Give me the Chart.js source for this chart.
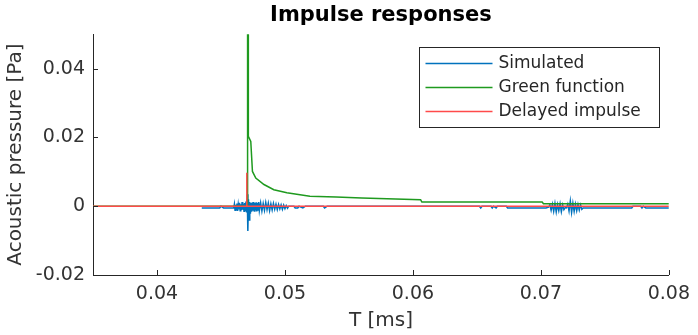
<!DOCTYPE html>
<html>
<head>
<meta charset="utf-8">
<script src="https://cdn.jsdelivr.net/npm/chart.js@4/dist/chart.umd.min.js"></script>
<style>
  html, body { margin: 0; padding: 0; background: #fff; }
  #wrap { width: 698px; height: 335px; }
</style>
</head>
<body>
<div id="wrap"><canvas id="impulseChart" width="698" height="335"></canvas></div>
<script>
// Tick values for both axes
const xTickValues = [0.04, 0.05, 0.06, 0.07, 0.08];
const yTickValues = [-0.02, 0, 0.02, 0.04];

// Simulated response
const simT = [
    0.0435, 0.0449, 0.0450, 0.0452, 0.0460,
    0.04605, 0.0461, 0.04615, 0.0462, 0.04625, 0.0463, 0.04635, 0.0464, 0.04645, 0.0465,
    0.04655, 0.0466, 0.04665, 0.0467, 0.04675, 0.0468, 0.04685, 0.0469, 0.04695, 0.0470,
    0.04705, 0.0471, 0.04715, 0.0472, 0.04725, 0.0473, 0.04735, 0.0474, 0.04745, 0.0475,
    0.04755, 0.0476, 0.04765, 0.0477, 0.04775, 0.0478, 0.04785, 0.0479, 0.04795, 0.0480,
    0.0481, 0.0482, 0.0483, 0.0484, 0.0485, 0.0486, 0.0487, 0.0488, 0.0489, 0.0490,
    0.0491, 0.0492, 0.0493, 0.0494, 0.0495, 0.0496, 0.0497, 0.0498, 0.0499, 0.0500,
    0.0501, 0.0502, 0.0503, 0.0507, 0.0508, 0.0510, 0.0511, 0.0514, 0.0516, 0.0530,
    0.0531, 0.0533, 0.0652, 0.0653, 0.0654, 0.0661, 0.0662, 0.0663, 0.0665, 0.0666,
    0.0673, 0.0674, 0.0704, 0.0706, 0.0707, 0.0708, 0.0709, 0.0710, 0.0711, 0.0712,
    0.0713, 0.0714, 0.0715, 0.0716, 0.0717, 0.0718, 0.0719, 0.0720, 0.0721, 0.0722,
    0.0723, 0.0724, 0.0725, 0.0726, 0.0727, 0.0728, 0.0729, 0.0730, 0.0731, 0.0732,
    0.0733, 0.0771, 0.0772, 0.0778, 0.0779, 0.0780, 0.0782, 0.0800
];
const simP = [
    -0.0005, -0.0005, 0, -0.0005, -0.0005,
    0.0006, -0.0012, 0.0004, -0.0010, 0.0008, -0.0014, 0.0005, -0.0009, 0.0010, -0.0013,
    0.0006, -0.0011, 0.0012, -0.0010, 0.0007, -0.0015, 0.0009, -0.0012, 0.0014, -0.0018,
    0.0035, -0.0072, 0.0020, -0.0040, 0.0012, -0.0022, 0.0009, -0.0016, 0.0011, -0.0013,
    0.0012, -0.0014, 0.0010, -0.0012, 0.0011, -0.0015, 0.0009, -0.0011, 0.0012, -0.0013,
    0.0010, -0.0014, 0.0008, -0.0012, 0.0011, -0.0010, 0.0009, -0.0013, 0.0007, -0.0011,
    0.0008, -0.0009, 0.0006, -0.0010, 0.0005, -0.0008, 0.0004, -0.0009, 0.0003, -0.0007,
    0.0002, -0.0006, 0, 0, -0.0005, -0.0005, 0, -0.0005, 0, 0,
    -0.0005, 0, 0, -0.0005, 0, 0, -0.0005, 0, -0.0005, 0,
    0, -0.0005, -0.0005, -0.0003, 0.0004, -0.0012, 0.0006, -0.0015, 0.0008, -0.0017,
    0.0005, -0.0013, 0.0007, -0.0016, 0.0004, -0.0010, -0.0004, -0.0005, 0.0006, -0.0014,
    0.0015, -0.0018, 0.0009, -0.0015, 0.0006, -0.0013, 0.0005, -0.0011, 0.0004, -0.0009,
    -0.0005, -0.0005, 0, 0, -0.0005, 0, -0.0005, -0.0005
];

// Green function
const greenT = [
    0.0350, 0.04708, 0.04708, 0.04713, 0.04714, 0.04733, 0.04746, 0.04772, 0.04836, 0.04913,
    0.05015, 0.05195, 0.0540, 0.0560, 0.0606, 0.0607, 0.0701, 0.0702, 0.0800
];
const greenP = [
    0, 0, 0.0500, 0.0500, 0.0203, 0.0188, 0.0101, 0.0082, 0.0063, 0.0048,
    0.0039, 0.0029, 0.0027, 0.0024, 0.0019, 0.0012, 0.0012, 0.0007, 0.0007
];

// Delayed impulse
const delayT = [0.0350, 0.04702, 0.04702, 0.04702, 0.0800];
const delayP = [0, 0, 0.0097, 0, 0];

const axisColor = '#262626';
const fontFamily = "'DejaVu Sans', sans-serif";

function toPoints(ts, ps) {
    return ts.map((t, i) => ({ x: t, y: ps[i] }));
}

function fmt(v) {
    return String(Number(v.toFixed(4)));
}

// Inward tick marks, MATLAB style
const inwardTicks = {
    id: 'inwardTicks',
    afterDatasetsDraw(chart) {
        const { ctx, chartArea: a, scales } = chart;
        ctx.save();
        ctx.strokeStyle = axisColor;
        ctx.lineWidth = 1;
        ctx.beginPath();
        xTickValues.forEach(v => {
            const px = Math.round(scales.x.getPixelForValue(v)) + 0.5;
            ctx.moveTo(px, a.bottom);
            ctx.lineTo(px, a.bottom - 5);
        });
        yTickValues.forEach(v => {
            const py = Math.round(scales.y.getPixelForValue(v)) + 0.5;
            ctx.moveTo(a.left, py);
            ctx.lineTo(a.left + 5, py);
        });
        ctx.stroke();
        ctx.restore();
    }
};

// Boxed legend inside the axes, upper right
const boxLegend = {
    id: 'boxLegend',
    afterDraw(chart) {
        const { ctx } = chart;
        const box = { x: 419.5, y: 47.5, w: 240, h: 80 };
        ctx.save();
        ctx.fillStyle = '#fff';
        ctx.fillRect(box.x, box.y, box.w, box.h);
        ctx.strokeStyle = axisColor;
        ctx.lineWidth = 1;
        ctx.strokeRect(box.x, box.y, box.w, box.h);
        ctx.font = '17px ' + fontFamily;
        ctx.textBaseline = 'middle';
        ctx.fillStyle = axisColor;
        chart.data.datasets.forEach((ds, i) => {
            const rowY = box.y + 16 + i * 24;
            ctx.strokeStyle = ds.borderColor;
            ctx.lineWidth = 1.5;
            ctx.beginPath();
            ctx.moveTo(box.x + 6, rowY);
            ctx.lineTo(box.x + 73, rowY);
            ctx.stroke();
            ctx.fillText(ds.label, box.x + 79, rowY);
        });
        ctx.restore();
    }
};

new Chart(document.getElementById('impulseChart'), {
    type: 'line',
    data: {
        datasets: [
            {
                label: 'Simulated',
                data: toPoints(simT, simP),
                borderColor: '#0072BD',
                borderWidth: 1.5,
                order: 2
            },
            {
                label: 'Green function',
                data: toPoints(greenT, greenP),
                borderColor: '#1f9a1f',
                borderWidth: 1.5,
                order: 1
            },
            {
                label: 'Delayed impulse',
                data: toPoints(delayT, delayP),
                borderColor: '#ff4a4a',
                borderWidth: 1.5,
                order: 0
            }
        ]
    },
    options: {
        responsive: false,
        animation: false,
        events: [],
        elements: {
            point: { radius: 0 },
            line: { tension: 0 }
        },
        layout: { padding: { left: 0, right: 21, top: 0, bottom: 0 } },
        plugins: {
            legend: { display: false },
            tooltip: { enabled: false },
            title: {
                display: true,
                text: 'Impulse responses',
                fullSize: false,
                color: '#000',
                font: { family: fontFamily, size: 21, weight: 'bold' },
                padding: { top: 3, bottom: 6 }
            }
        },
        scales: {
            x: {
                type: 'linear',
                min: 0.035,
                max: 0.08,
                grid: { display: false, drawTicks: false },
                border: { display: true, color: axisColor, width: 1 },
                afterBuildTicks: scale => { scale.ticks = xTickValues.map(v => ({ value: v })); },
                afterFit: scale => { scale.height = 60; },
                ticks: {
                    color: '#333',
                    font: { family: fontFamily, size: 19 },
                    padding: 8,
                    maxRotation: 0,
                    callback: v => fmt(v)
                },
                title: {
                    display: true,
                    text: 'T [ms]',
                    color: '#333',
                    font: { family: fontFamily, size: 20 },
                    padding: { top: 0, bottom: 2 }
                }
            },
            y: {
                type: 'linear',
                min: -0.02,
                max: 0.05,
                grid: { display: false, drawTicks: false },
                border: { display: true, color: axisColor, width: 1 },
                afterBuildTicks: scale => { scale.ticks = yTickValues.map(v => ({ value: v })); },
                afterFit: scale => { scale.width = 93; },
                ticks: {
                    color: '#333',
                    font: { family: fontFamily, size: 19 },
                    padding: 8,
                    callback: v => fmt(v)
                },
                title: {
                    display: true,
                    text: 'Acoustic pressure [Pa]',
                    color: '#333',
                    font: { family: fontFamily, size: 20 },
                    padding: { top: 4, bottom: 0 }
                }
            }
        }
    },
    plugins: [inwardTicks, boxLegend]
});
</script>
</body>
</html>
